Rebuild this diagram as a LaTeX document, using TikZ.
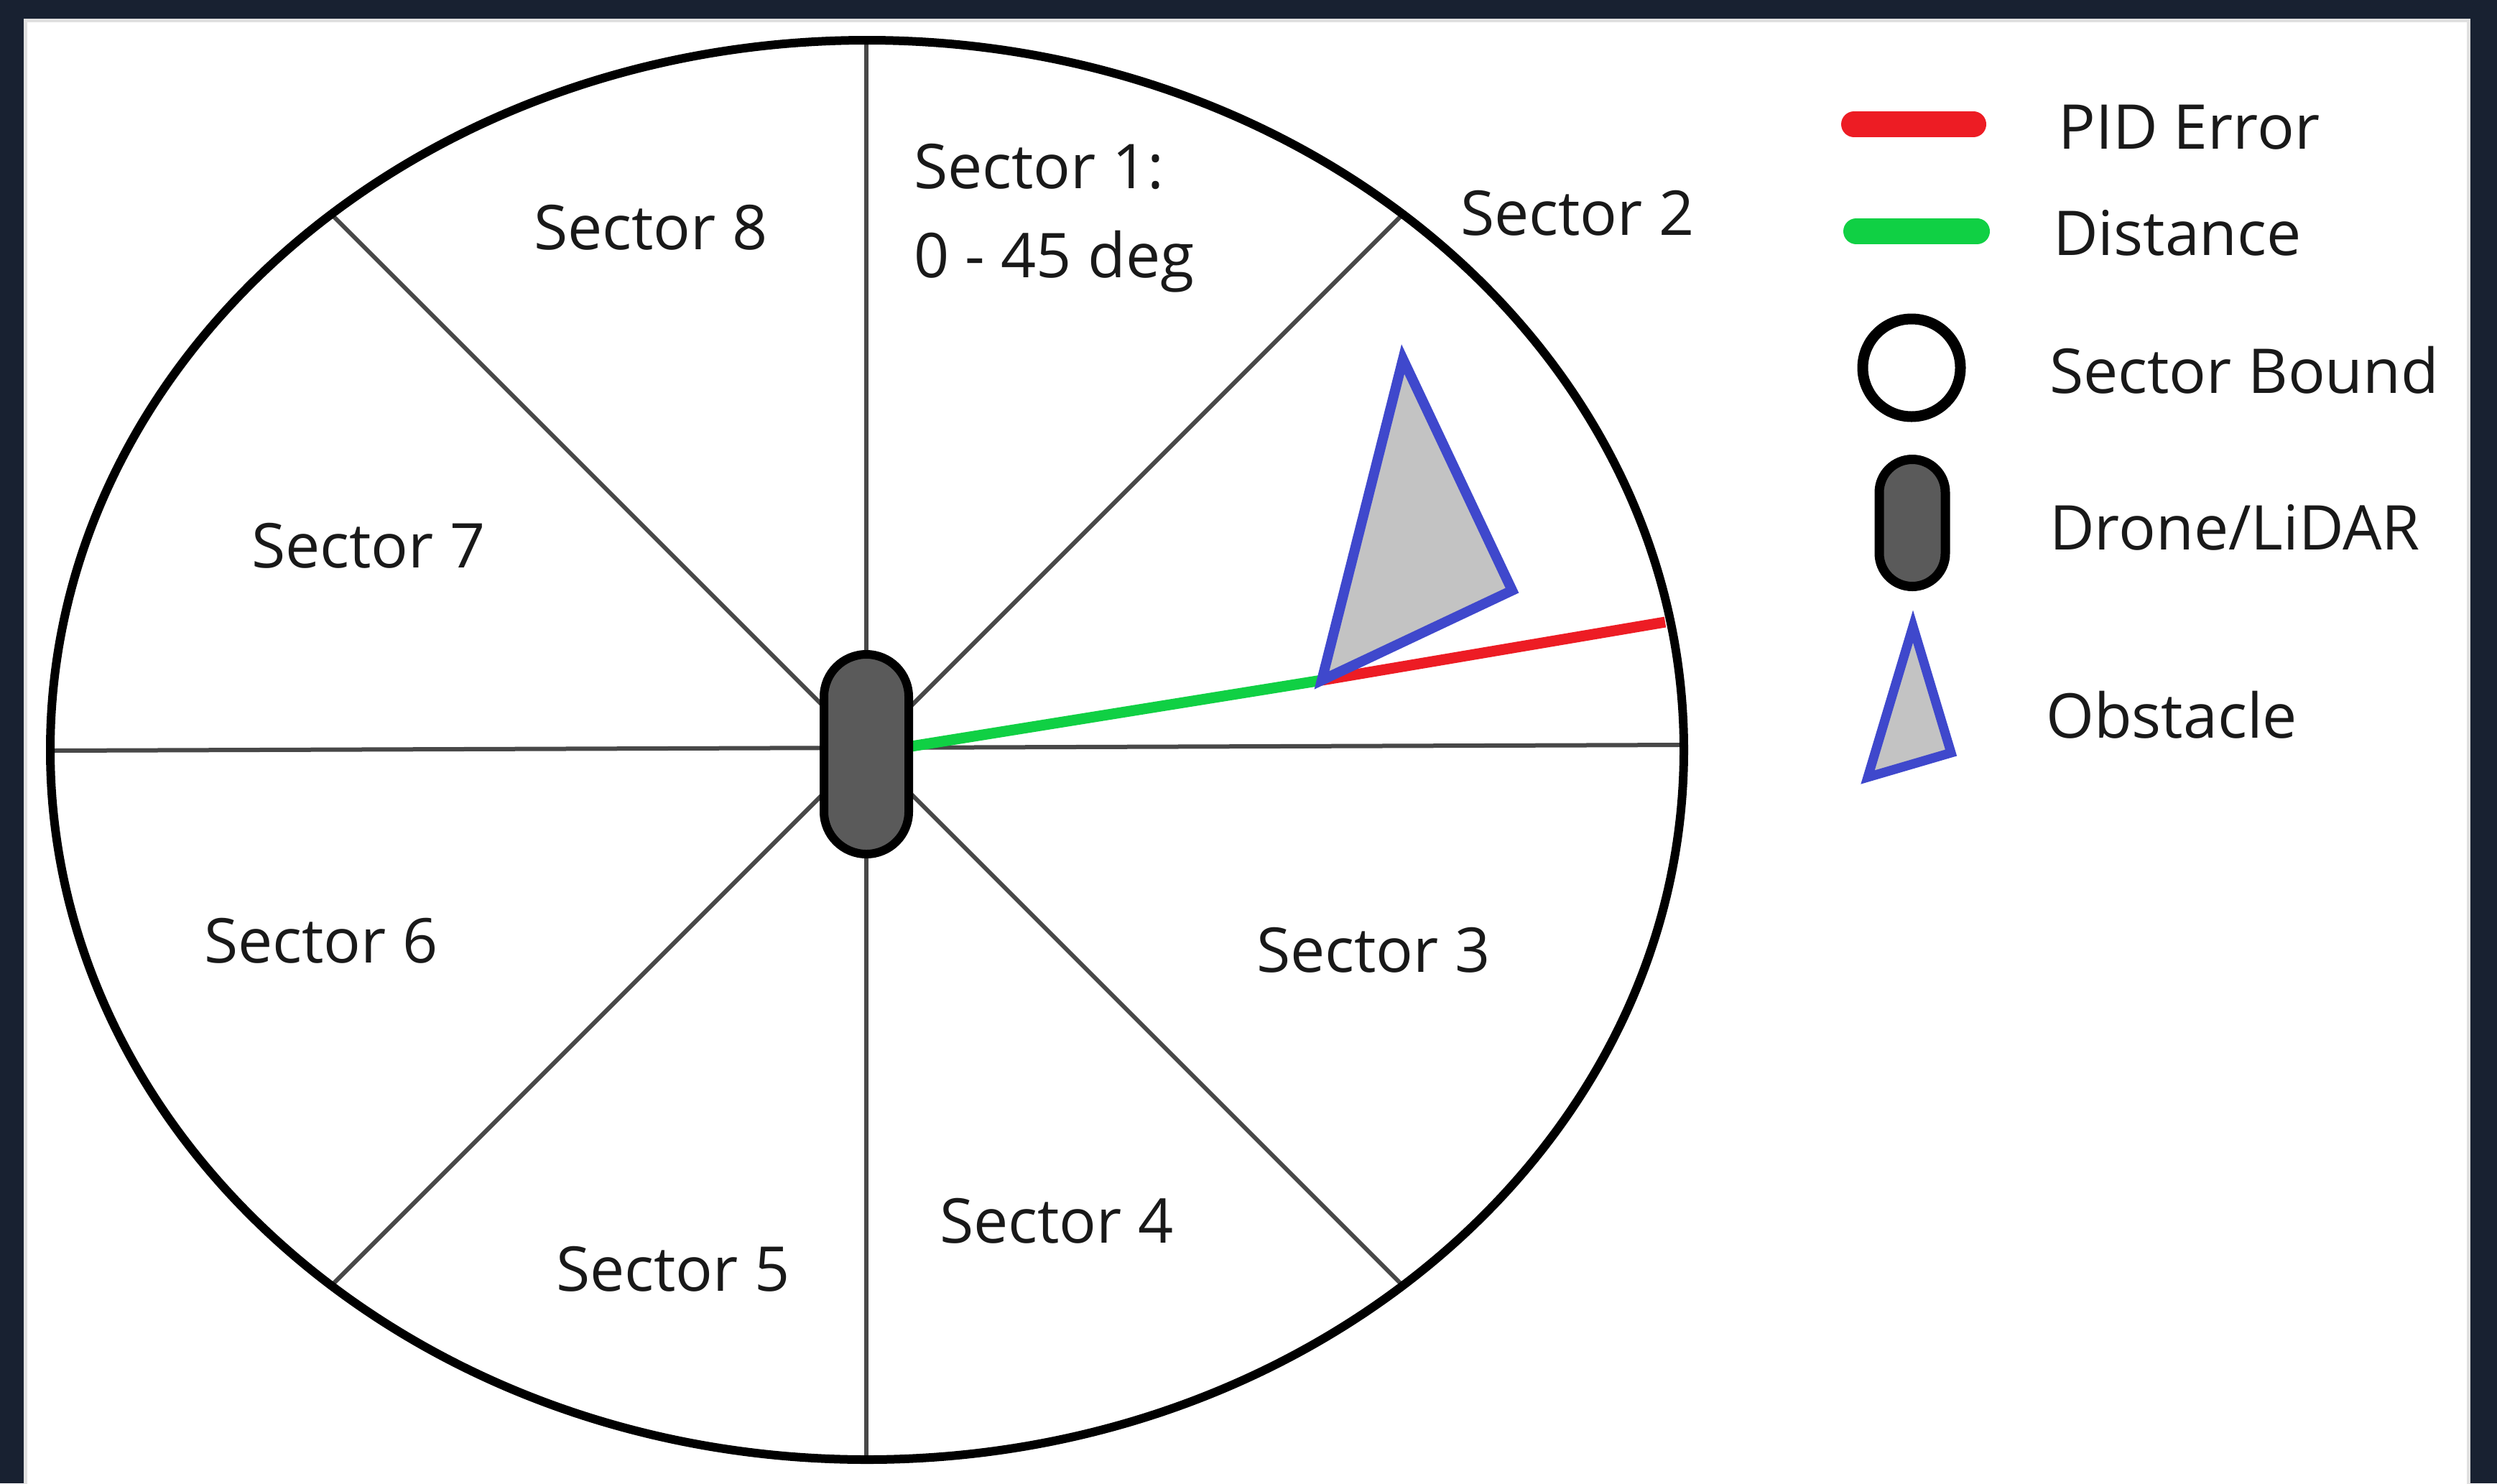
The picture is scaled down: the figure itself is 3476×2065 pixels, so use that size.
\documentclass[tikz,border=0pt]{standalone}
\usepackage{fontspec}
\setmainfont{Open Sans}
\usetikzlibrary{positioning}
\definecolor{framenavy}{RGB}{24,33,49}
\definecolor{piderr}{RGB}{237,28,36}
\definecolor{distgreen}{RGB}{16,208,68}
\definecolor{obsblue}{RGB}{63,72,204}
\definecolor{obsgray}{RGB}{195,195,195}
\definecolor{dronegray}{RGB}{90,90,90}
\definecolor{spokegray}{RGB}{72,72,72}

\begin{document}
\begin{tikzpicture}[x=1pt,y=-1pt,
  spoke/.style={spokegray, line width=6pt},
  bound/.style={black, line width=12pt},
  errline/.style={piderr, line width=15pt},
  distline/.style={distgreen, line width=15pt},
  obstacle/.style={draw=obsblue, fill=obsgray, line width=14pt, line join=miter},
  dronebody/.style={draw=black, fill=dronegray, rectangle, inner sep=0pt},
  lbl/.style={font=\fontsize{86}{124}\selectfont, text=black!90, inner sep=0pt, anchor=base west}]
\useasboundingbox (0,0) rectangle (3476,2065);
\fill[framenavy] (0,0) rectangle (3476,2065);
\fill[white, draw=black!12, line width=5pt] (35,28) rectangle (3436,2070);

\coordinate (c) at (1206,1044);
\draw[spoke] (72,1045) -- (2345,1037);
\draw[spoke] (1206,56) -- (1206,2032);
\draw[spoke] (461,298) -- (1953,1790);
\draw[spoke] (1953,298) -- (461,1790);
\draw[bound] (1207,1044) ellipse [x radius=1137, y radius=988];

\node[dronebody, minimum width=118pt, minimum height=278pt, rounded corners=59pt] (drone) at (1206,1050) {};
\coordinate (obA) at (1953,500);
\coordinate (obB) at (2105,822);
\coordinate (obC) at (1840,947);
\coordinate (edge) at (2318,866);
\draw[distline] (drone.10) -- (obC);
\draw[errline] (obC) -- (edge);
\draw[obstacle] (obA) -- (obB) -- (obC) -- cycle;
\node[dronebody, line width=12pt, minimum width=118pt, minimum height=278pt, rounded corners=59pt] at (drone) {};

\node[lbl] (s1) at (1272,262) {Sector 1:};
\node[lbl] (s1deg) at (1272,386) {0 - 45 deg};
\node[lbl] (s2) at (2033,327) {Sector 2};
\node[lbl] (s3) at (1749,1353) {Sector 3};
\node[lbl] (s4) at (1308,1730) {Sector 4};
\node[lbl] (s5) at (774,1797) {Sector 5};
\node[lbl] (s6) at (284,1340) {Sector 6};
\node[lbl] (s7) at (350,790) {Sector 7};
\node[lbl] (s8) at (743,347) {Sector 8};

\draw[piderr, line width=36pt, line cap=round] (2581,173) -- (2747,173);
\draw[distgreen, line width=36pt, line cap=round] (2584,322) -- (2752,322);
\node[draw=black, circle, line width=15pt, minimum size=136pt, inner sep=0pt] (kbound) at (2661,512) {};
\node[dronebody, line width=13pt, minimum width=92pt, minimum height=177pt, rounded corners=46pt] (kdrone) at (2662,728) {};
\draw[obstacle, line width=13pt] (2663,872) -- (2716,1048) -- (2600,1082) -- cycle;
\node[lbl] (kerr) at (2865,207) {PID Error};
\node[lbl] (kdist) at (2858,355) {Distance};
\node[lbl] (kbnd) at (2853,547) {Sector Bound};
\node[lbl] (kdrn) at (2853,765) {Drone/LiDAR};
\node[lbl] (kobs) at (2848,1027) {Obstacle};
\end{tikzpicture}
\end{document}
